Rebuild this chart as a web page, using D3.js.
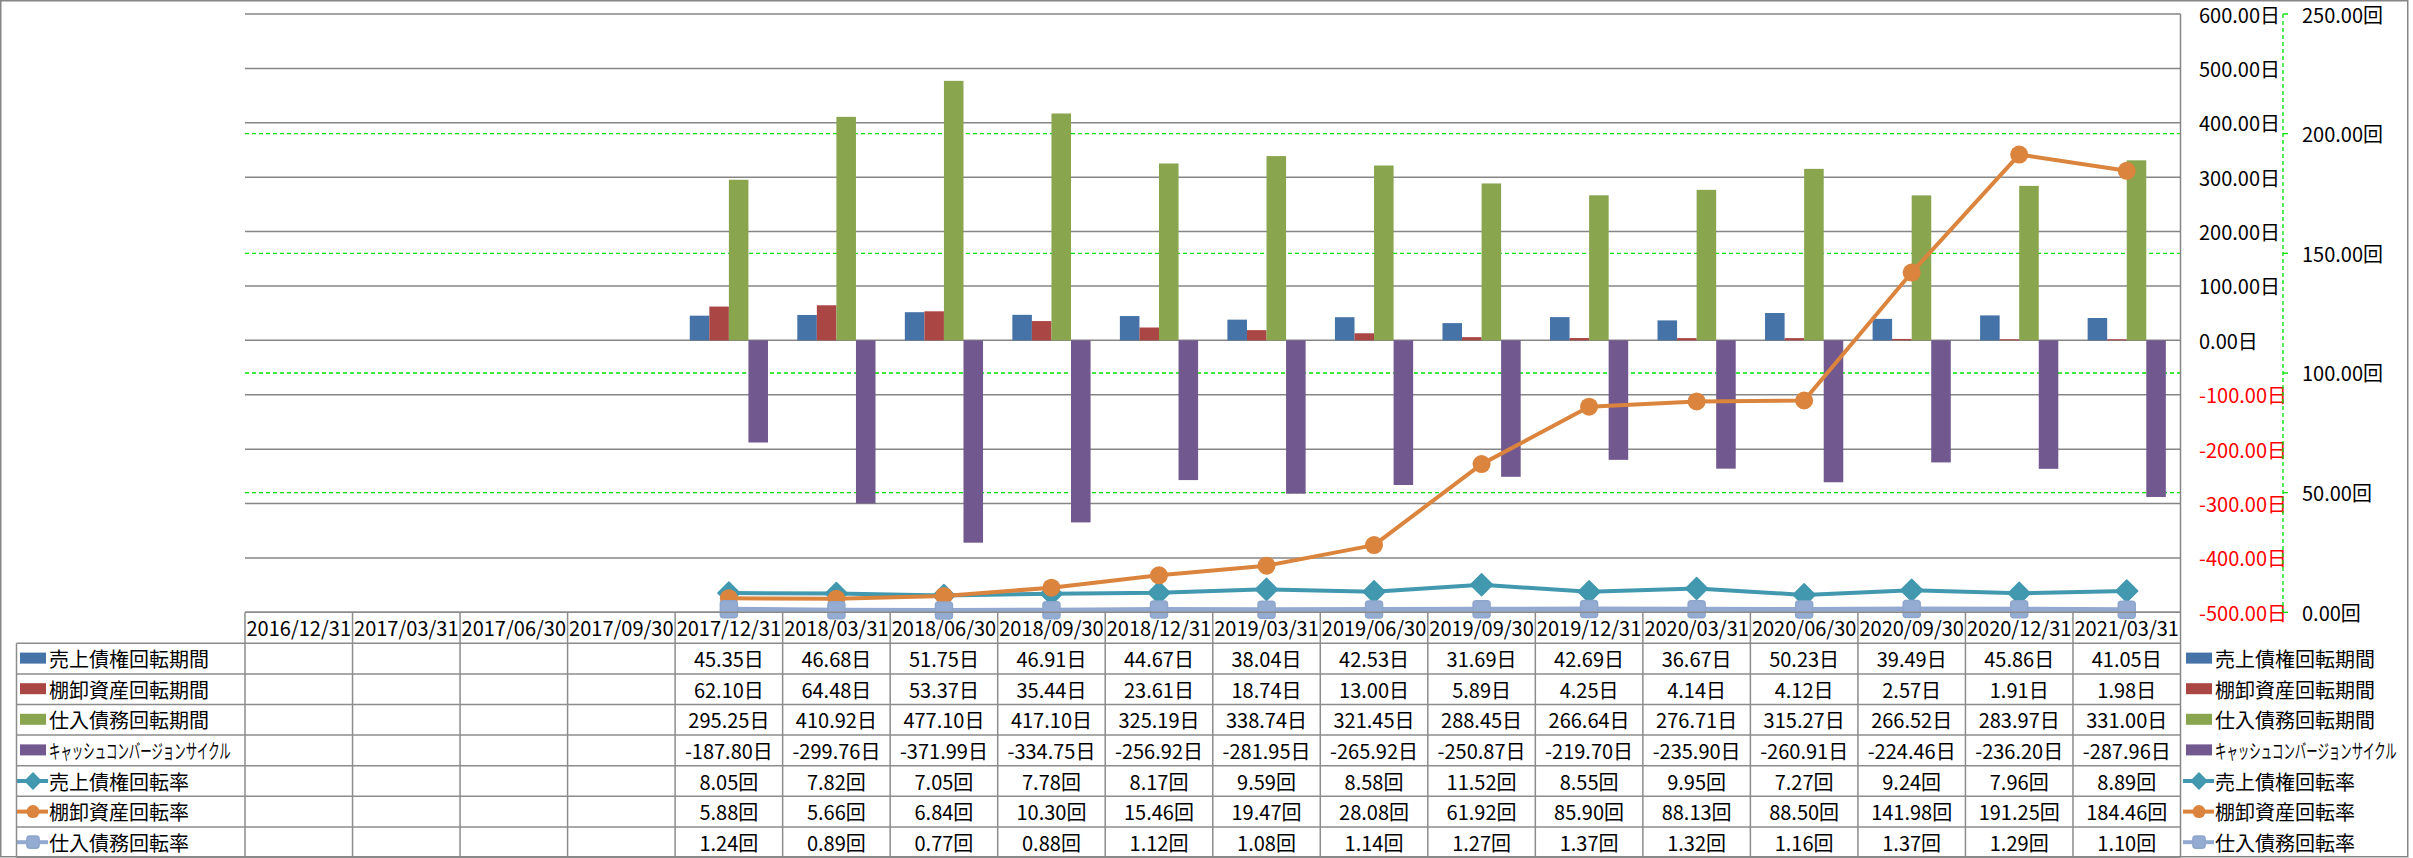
<!DOCTYPE html>
<html><head><meta charset="utf-8">
<script src="https://cdn.jsdelivr.net/npm/d3@7/dist/d3.min.js"></script>
<style>body{margin:0;background:#fff;} text{font-family:"Noto Sans CJK JP","Noto Sans",sans-serif;}</style>
</head><body>
<svg id="c" width="2413" height="858"></svg>
<script>
const categories = ["2016/12/31","2017/03/31","2017/06/30","2017/09/30","2017/12/31","2018/03/31","2018/06/30","2018/09/30","2018/12/31","2019/03/31","2019/06/30","2019/09/30","2019/12/31","2020/03/31","2020/06/30","2020/09/30","2020/12/31","2021/03/31"];
const arDays  = [null,null,null,null,45.35,46.68,51.75,46.91,44.67,38.04,42.53,31.69,42.69,36.67,50.23,39.49,45.86,41.05];
const invDays = [null,null,null,null,62.10,64.48,53.37,35.44,23.61,18.74,13.00,5.89,4.25,4.14,4.12,2.57,1.91,1.98];
const apDays  = [null,null,null,null,295.25,410.92,477.10,417.10,325.19,338.74,321.45,288.45,266.64,276.71,315.27,266.52,283.97,331.00];
const ccc     = [null,null,null,null,-187.80,-299.76,-371.99,-334.75,-256.92,-281.95,-265.92,-250.87,-219.70,-235.90,-260.91,-224.46,-236.20,-287.96];
const arTurn  = [null,null,null,null,8.05,7.82,7.05,7.78,8.17,9.59,8.58,11.52,8.55,9.95,7.27,9.24,7.96,8.89];
const invTurn = [null,null,null,null,5.88,5.66,6.84,10.30,15.46,19.47,28.08,61.92,85.90,88.13,88.50,141.98,191.25,184.46];
const apTurn  = [null,null,null,null,1.24,0.89,0.77,0.88,1.12,1.08,1.14,1.27,1.37,1.32,1.16,1.37,1.29,1.10];
const leftTicks = [600,500,400,300,200,100,0,-100,-200,-300,-400,-500];
const rightTicks = [250,200,150,100,50,0];
const barNames = ["売上債権回転期間","棚卸資産回転期間","仕入債務回転期間","キャッシュコンバージョンサイクル"];
const lineNames = ["売上債権回転率","棚卸資産回転率","仕入債務回転率"];

const barSeries = [arDays, invDays, apDays, ccc];
const lineSeries = [arTurn, invTurn, apTurn];
const barColors = ["#4572A7","#AA4643","#89A54E","#71588F"];
const lineColors = ["#4198AF","#DB843D","#93A9CF"];
const fmt = v => v.toFixed(2);

const svg = d3.select("#c");
const L = 245, R = 2180.5, T = 14, B = 612.3;
const x = d3.scaleBand().domain(categories).range([L,R]).padding(0);
const y0 = d3.scaleLinear().domain([-500,600]).range([B,T]);
const y1 = d3.scaleLinear().domain([0,250]).range([B,T]);
const gray = "#868686";
const fs = 20;

function drawMarker(g, k, scale){
  const s = scale||1;
  if(k===0){
    const h = 11*s;
    g.append("path").attr("d",`M0,${-h}L${h},0L0,${h}L${-h},0Z`).attr("fill",lineColors[0]).attr("stroke",lineColors[0]).attr("stroke-linejoin","round").attr("stroke-width",1.5);
  } else if(k===1){
    g.append("circle").attr("r",9*s).attr("fill",lineColors[1]);
  } else {
    const h = 8.5*s;
    g.append("rect").attr("x",-h).attr("y",-h).attr("width",2*h).attr("height",2*h).attr("rx",3).attr("fill","#95ACD2").attr("stroke","#8FA6CC").attr("stroke-width",1.5);
  }
}

svg.append("rect").attr("x",0.75).attr("y",0.75).attr("width",2407).attr("height",856).attr("fill","none").attr("stroke",gray).attr("stroke-width",1.5);

svg.append("g").selectAll("line").data([50,100,150,200]).join("line")
  .attr("x1",L).attr("x2",R).attr("y1",d=>y1(d)).attr("y2",d=>y1(d))
  .attr("stroke","#00E000").attr("stroke-width",1.3).attr("stroke-dasharray","4,3");
svg.append("g").selectAll("line").data(leftTicks).join("line")
  .attr("x1",L).attr("x2",R).attr("y1",d=>y0(d)).attr("y2",d=>y0(d))
  .attr("stroke",gray).attr("stroke-width",1.5);
svg.append("line").attr("x1",R).attr("x2",R).attr("y1",T).attr("y2",857).attr("stroke",gray).attr("stroke-width",1.5);

const bw = x.bandwidth()/5.5;
barSeries.forEach((s,i)=>{
  svg.append("g").selectAll("rect").data(categories.map((c,j)=>({c,v:s[j]})).filter(d=>d.v!=null)).join("rect")
    .attr("x",d=>x(d.c)+0.75*bw+i*bw).attr("width",bw)
    .attr("y",d=>Math.min(y0(0),y0(d.v))).attr("height",d=>Math.abs(y0(d.v)-y0(0)))
    .attr("fill",barColors[i]);
});

const cx = c => x(c)+x.bandwidth()/2;
lineSeries.forEach((s,i)=>{
  const pts = categories.map((c,j)=>({c,v:s[j]})).filter(d=>d.v!=null);
  svg.append("path").datum(pts)
    .attr("d",d3.line().x(d=>cx(d.c)).y(d=>y1(d.v)))
    .attr("fill","none").attr("stroke",lineColors[i]).attr("stroke-width",i==2?5:4).attr("stroke-linejoin","round");
  pts.forEach(d=>{
    const g = svg.append("g").attr("transform",`translate(${cx(d.c)},${y1(d.v)})`);
    drawMarker(g,i,1);
  });
});

svg.append("g").selectAll("text").data(leftTicks).join("text")
  .attr("x",2199).attr("y",d=>y0(d)).attr("dominant-baseline","central")
  .attr("font-size",fs).attr("fill",d=>d<0?"#FF0000":"#000")
  .text(d=>fmt(d)+"日");
const ax = 2283;
svg.append("line").attr("x1",ax).attr("x2",ax).attr("y1",T).attr("y2",B).attr("stroke","#00E000").attr("stroke-width",1.3).attr("stroke-dasharray","4,3");
svg.append("g").selectAll("line").data(rightTicks).join("line")
  .attr("x1",ax).attr("x2",ax+5).attr("y1",d=>y1(d)).attr("y2",d=>y1(d)).attr("stroke","#00E000").attr("stroke-width",1.3);
svg.append("g").selectAll("text").data(rightTicks).join("text")
  .attr("x",2302).attr("y",d=>y1(d)).attr("dominant-baseline","central")
  .attr("font-size",fs).attr("fill","#000")
  .text(d=>fmt(d)+"回");

const tg = svg.append("g");
const headTop = B, headBot = 643.3, rowH = 30.6, nRows = 7;
const rowTop = i => headBot + i*rowH;
const tblLeft = 16.5, tblBottom = headBot + nRows*rowH;
const tgray = "#8C8C8C";
tg.append("line").attr("x1",L).attr("x2",R).attr("y1",headTop).attr("y2",headTop).attr("stroke",tgray).attr("stroke-width",1.5);
d3.range(nRows+1).forEach(i=>{
  tg.append("line").attr("x1",tblLeft).attr("x2",R).attr("y1",rowTop(i)).attr("y2",rowTop(i)).attr("stroke",tgray).attr("stroke-width",1.5);
});
tg.append("line").attr("x1",tblLeft).attr("x2",tblLeft).attr("y1",headBot).attr("y2",tblBottom).attr("stroke",tgray).attr("stroke-width",1.5);
tg.selectAll("line.v").data(categories).join("line").attr("class","v")
  .attr("x1",d=>x(d)).attr("x2",d=>x(d)).attr("y1",headTop).attr("y2",tblBottom).attr("stroke",tgray).attr("stroke-width",1.5);
tg.selectAll("text.h").data(categories).join("text").attr("class","h")
  .attr("x",d=>cx(d)).attr("y",(headTop+headBot)/2).attr("text-anchor","middle").attr("dominant-baseline","central")
  .attr("font-size",fs).text(d=>d);
const allSeries = [...barSeries, ...lineSeries];
allSeries.forEach((s,i)=>{
  const unit = i<4?"日":"回";
  tg.append("g").selectAll("text").data(categories.map((c,j)=>({c,v:s[j]})).filter(d=>d.v!=null)).join("text")
    .attr("x",d=>cx(d.c)).attr("y",rowTop(i)+rowH/2).attr("text-anchor","middle").attr("dominant-baseline","central")
    .attr("font-size",fs).text(d=>fmt(d.v)+unit);
});
function legendKey(g, xs, xt, i){
  const cy = rowTop(i)+rowH/2;
  const names = [...barNames, ...lineNames];
  if(i<4){
    g.append("rect").attr("x",xs).attr("y",cy-6).attr("width",26).attr("height",11).attr("fill",barColors[i]);
  } else {
    const k=i-4;
    g.append("line").attr("x1",xs-3).attr("x2",xs+28).attr("y1",cy).attr("y2",cy).attr("stroke",lineColors[k]).attr("stroke-width",4);
    drawMarker(g.append("g").attr("transform",`translate(${xs+13},${cy})`), k, 0.72);
  }
  if(i==3){
    const t = g.append("text").attr("x",0).attr("y",0).attr("dominant-baseline","central").attr("font-size",fs).text(names[i]);
    const w = t.node().getComputedTextLength();
    const sc = 182 / w;
    t.attr("transform",`translate(${xt},${cy}) scale(${sc},1)`);
  } else {
    g.append("text").attr("x",xt).attr("y",cy).attr("dominant-baseline","central").attr("font-size",fs).text(names[i]);
  }
}
d3.range(7).forEach(i=>{ legendKey(tg, 20, 49, i); legendKey(svg, 2186, 2215, i); });
</script>
</body></html>
